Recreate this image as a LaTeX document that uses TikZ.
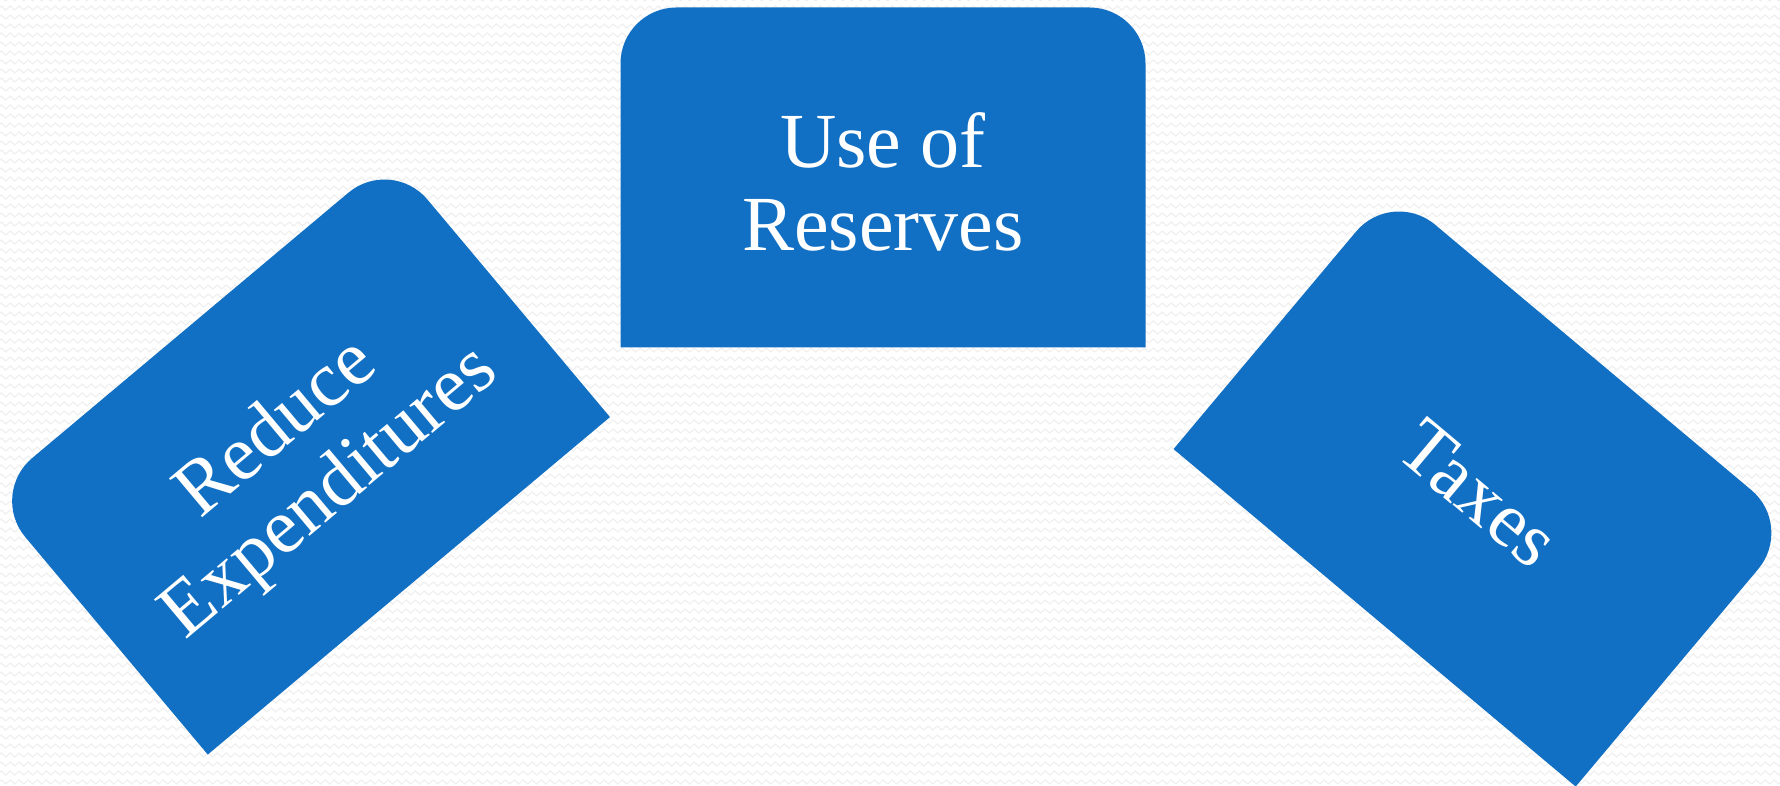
\documentclass[tikz,border=0pt]{standalone}
\usepackage{fontspec}
\setmainfont{Liberation Serif}
\usetikzlibrary{decorations.pathmorphing}
\definecolor{boxblue}{HTML}{1170C4}
\definecolor{zig}{HTML}{EFEFEF}
\tikzset{
  bluepanel/.style={fill=boxblue},
  paneltext/.style={text=white, align=center, inner sep=0pt, font=\fontsize{78}{83}\selectfont},
  zigline/.style={draw=zig, line width=1.1pt, decorate, decoration={zigzag, segment length=9pt, amplitude=2pt}}
}
\begin{document}
\begin{tikzpicture}[x=1pt,y=1pt]
\fill[white] (0,0) rectangle (1780,786);
\useasboundingbox (0,0) rectangle (1780,786);
\clip (0,0) rectangle (1780,786);
\foreach \k in {0,...,88} \draw[zigline] (-10,\k*9+4) -- (1790,\k*9+4);
% top box
\begin{scope}[shift={(883,608.5)}]
  \fill[bluepanel] (-262.5,-170) -- (262.5,-170) -- (262.5,114) arc[start angle=0,end angle=90,radius=56] -- (-206.5,170) arc[start angle=90,end angle=180,radius=56] -- cycle;
  \node[paneltext] (use) at (0,-4) {Use of\\Reserves};
\end{scope}
% left box
\begin{scope}[shift={(299.6,330.4)}, rotate=40]
  \fill[bluepanel] (-262.5,-170) -- (262.5,-170) -- (262.5,114) arc[start angle=0,end angle=90,radius=56] -- (-206.5,170) arc[start angle=90,end angle=180,radius=56] -- cycle;
  \node[paneltext, rotate=40] (reduce) at (0,-8) {Reduce\\Expenditures};
\end{scope}
% right box
\begin{scope}[shift={(1483.9,298.4)}, rotate=-40]
  \fill[bluepanel] (-262.5,-170) -- (262.5,-170) -- (262.5,114) arc[start angle=0,end angle=90,radius=56] -- (-206.5,170) arc[start angle=90,end angle=180,radius=56] -- cycle;
  \node[paneltext, rotate=-40] (taxes) at (0,-8) {Taxes};
\end{scope}
\end{tikzpicture}
\end{document}
